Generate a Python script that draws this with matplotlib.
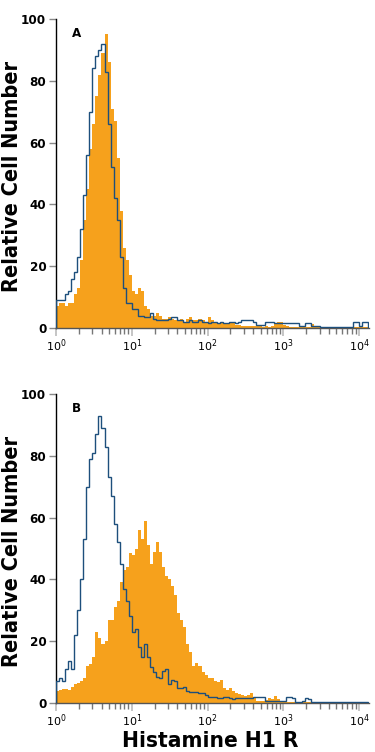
import glob
import numpy as np
import matplotlib
matplotlib.use("Agg")
import matplotlib.pyplot as plt
from matplotlib import font_manager
from matplotlib.font_manager import FontProperties
from matplotlib.ticker import LogLocator, FixedLocator

# ---------------- data ----------------
bin_width_decades = 0.04          # histogram channel width on the log axis
panel_labels = ["A", "B"]
y_ticks = [0, 20, 40, 60, 80, 100]
x_label = "Histamine H1 R"
y_label = "Relative Cell Number"

orange_a = [7, 8, 8, 7, 8, 8, 11, 13, 22, 35,
            45, 58, 66, 75, 82, 89, 95, 86, 71, 67,
            55, 38, 26, 22, 17, 12, 11, 13, 12, 7,
            6, 4, 4, 5, 4, 3, 3, 3.5, 3, 2.5,
            2.5, 3, 2, 3, 3.5, 2.5, 2.5, 3, 2.5, 2,
            3.5, 2.5, 2, 1.5, 2, 1.5, 1.5, 2, 1.5, 1,
            1, 0.5, 0.8, 0.5, 0.5, 0.7, 0.5, 0.5, 0.3, 0.5,
            0.3, 0.5, 1.5, 2, 2, 1, 0.5, 0.3, 0.3, 0.3,
            0.3, 0.3, 0.3, 0.3, 1.2, 0.3, 0.2, 0.2, 0.2, 0.2,
            0.2, 0.2, 0.2, 0.2, 0.2, 0.2, 0.2, 0.2, 0.2, 0.2,
            0.2, 0.2, 0.2]
blue_a = [9, 9, 9, 11, 12, 16, 18, 23, 32, 43,
          56, 70, 84, 88, 90, 92, 83, 66, 52, 42,
          35, 23, 13, 8, 8, 6, 6, 4, 4, 3.5,
          3.5, 5, 3, 2.6, 2.6, 2.6, 2.5, 3, 3.5, 3.5,
          2.5, 2.5, 2, 2, 2.5, 2, 2, 2.5, 2, 2,
          1.5, 2, 2, 1.5, 2, 1.5, 1.5, 2, 2, 1.5,
          2, 2.6, 2.6, 2.6, 2.6, 2, 1, 1, 1, 2,
          2, 2, 1.7, 1.7, 1.7, 1.7, 1.7, 1.7, 1.7, 1.5,
          0.6, 0.6, 1.7, 1.7, 0.6, 0.6, 0.6, 0.4, 0.4, 0.4,
          0.4, 0.4, 0.4, 0.4, 0.4, 0.4, 0.4, 0.4, 2, 2,
          0.5, 2, 2]
orange_b = [3.8, 4.2, 4.5, 4.5, 4.3, 5.3, 6, 6.4, 7, 8,
            12, 12.5, 15, 23, 21, 19, 20, 27, 27, 31,
            33, 39, 43, 44, 48.5, 48, 50, 56, 53, 59,
            51, 45, 49, 52, 49, 44, 41, 40, 38, 35,
            29, 27, 24.5, 19, 16.5, 12, 13, 12, 10, 9,
            8, 8, 7, 6.8, 7.5, 4.8, 4.3, 4.8, 4, 3.2,
            3, 2.6, 2.3, 2.5, 3.2, 1.5, 0.5, 0.5, 0.5, 1,
            1.5, 1.2, 2.3, 1.2, 0.4, 0.4, 0.4, 0.3, 0.3, 0.3,
            0.3, 0.3, 0.3, 0.3, 0.3, 0.3, 0.2, 0.2, 0.2, 0.2,
            0.2, 0.2, 0.2, 0.2, 0.2, 0.2, 0.2, 0.2, 0.2, 0.2,
            0.2, 0.2, 0.2]
blue_b = [7, 8, 7, 11, 13.6, 11, 22, 30, 40, 53,
          70, 79, 81, 87, 93, 89, 83, 73, 67, 58,
          52, 45, 37, 33, 28, 23, 24, 18, 15, 19,
          15, 11.5, 10, 8.4, 8, 10.5, 11, 6, 7.5, 7,
          5, 4.8, 5.3, 4, 3.4, 3.6, 3.4, 3.2, 3.2, 2.6,
          2, 2, 2, 1.6, 1.6, 1.8, 2, 1.5, 1.3, 1.6,
          1.6, 1.6, 1.6, 1.6, 1.6, 1.8, 2, 2, 1.8, 0.7,
          0.7, 0.7, 0.7, 0.7, 0.7, 0.7, 1.8, 1.8, 1.5, 0.4,
          0.4, 0.5, 1.6, 1.2, 0.3, 0.3, 0.3, 0.3, 0.3, 0.3,
          0.3, 0.3, 0.3, 0.3, 0.3, 0.3, 0.3, 0.3, 0.3, 0.3,
          0.3, 0.3, 0.3]

# ---------------- fonts: prefer a narrow / condensed face ----------------
def find_font(patterns):
    files = font_manager.findSystemFonts() + glob.glob("/usr/share/fonts/**/*.ttf", recursive=True)
    for pat in patterns:
        for f in files:
            if f.lower().endswith(pat.lower()):
                return f
    return None

bold_file = find_font(["LiberationSansNarrow-Bold.ttf", "DejaVuSansCondensed-Bold.ttf"])

def fp_bold(size):
    if bold_file:
        return FontProperties(fname=bold_file, size=size)
    return FontProperties(family="DejaVu Sans", weight="bold", size=size)

# ---------------- style ----------------
ORANGE = "#F6A11C"
BLUE = "#1D4F7C"

fig = plt.figure(figsize=(3.75, 7.52), dpi=100)
W, H = 375.0, 752.0
left, right = 56, 369
axes_px = [(19, 328), (394, 703)]   # (top, bottom) in pixels

panels = [(orange_a, blue_a), (orange_b, blue_b)]
for k, ((top, bottom), (orng, blu)) in enumerate(zip(axes_px, panels)):
    ax = fig.add_axes([left / W, 1 - bottom / H, (right - left) / W, (bottom - top) / H])
    n = len(orng)
    edges = 10 ** (bin_width_decades * np.arange(n + 1))
    ax.stairs(orng, edges, fill=True, color=ORANGE, lw=0, zorder=2)
    ax.stairs(blu, edges, color=BLUE, lw=1.0, zorder=3, baseline=0)
    ax.set_xscale("log")
    ax.set_xlim(1, 10 ** 4.13)
    ax.set_ylim(0, 100)
    for s in ("top", "right"):
        ax.spines[s].set_visible(False)
    ax.spines["left"].set_color("black")
    ax.spines["bottom"].set_color("#555555")
    ax.spines["left"].set_linewidth(1.0)
    ax.spines["bottom"].set_linewidth(1.0)
    ax.yaxis.set_major_locator(FixedLocator(y_ticks))
    ax.xaxis.set_major_locator(LogLocator(base=10, numticks=10))
    ax.xaxis.set_minor_locator(LogLocator(base=10, subs=np.arange(2, 10), numticks=20))
    ax.xaxis.set_minor_formatter(plt.NullFormatter())
    ax.tick_params(axis="y", length=5, width=1, color="#888888", pad=2)
    ax.tick_params(axis="x", which="major", length=5.5, width=1.2, color="#bbbbbb", pad=1,
                   labelsize=8)
    ax.tick_params(axis="x", which="minor", length=4, width=1, color="#777777")
    ax.set_yticks(y_ticks)
    ax.set_yticklabels([str(v) for v in y_ticks], fontproperties=fp_bold(9.5))
    ax.text(0.05, 0.975, panel_labels[k], transform=ax.transAxes, ha="left", va="top",
            fontproperties=fp_bold(9.5))

# axis titles, scaled to the reference's pixel length
renderer = fig.canvas.get_renderer()

def fitted_text(x, y, s, target_len, rotation, va="center"):
    t = fig.text(x, y, s, ha="center", va=va, rotation=rotation,
                 fontproperties=fp_bold(18))
    bb = t.get_window_extent(renderer)
    length = bb.height if rotation == 90 else bb.width
    t.set_fontproperties(fp_bold(18 * target_len / length))
    return t

for (top, bottom) in axes_px:
    fitted_text(12.5 / W, 1 - ((top + bottom) / 2 + 3) / H, y_label, 232, 90)
fitted_text(210 / W, 1 - 747 / H, x_label, 176, 0, va="baseline")

fig.savefig("out.png", dpi=100)
